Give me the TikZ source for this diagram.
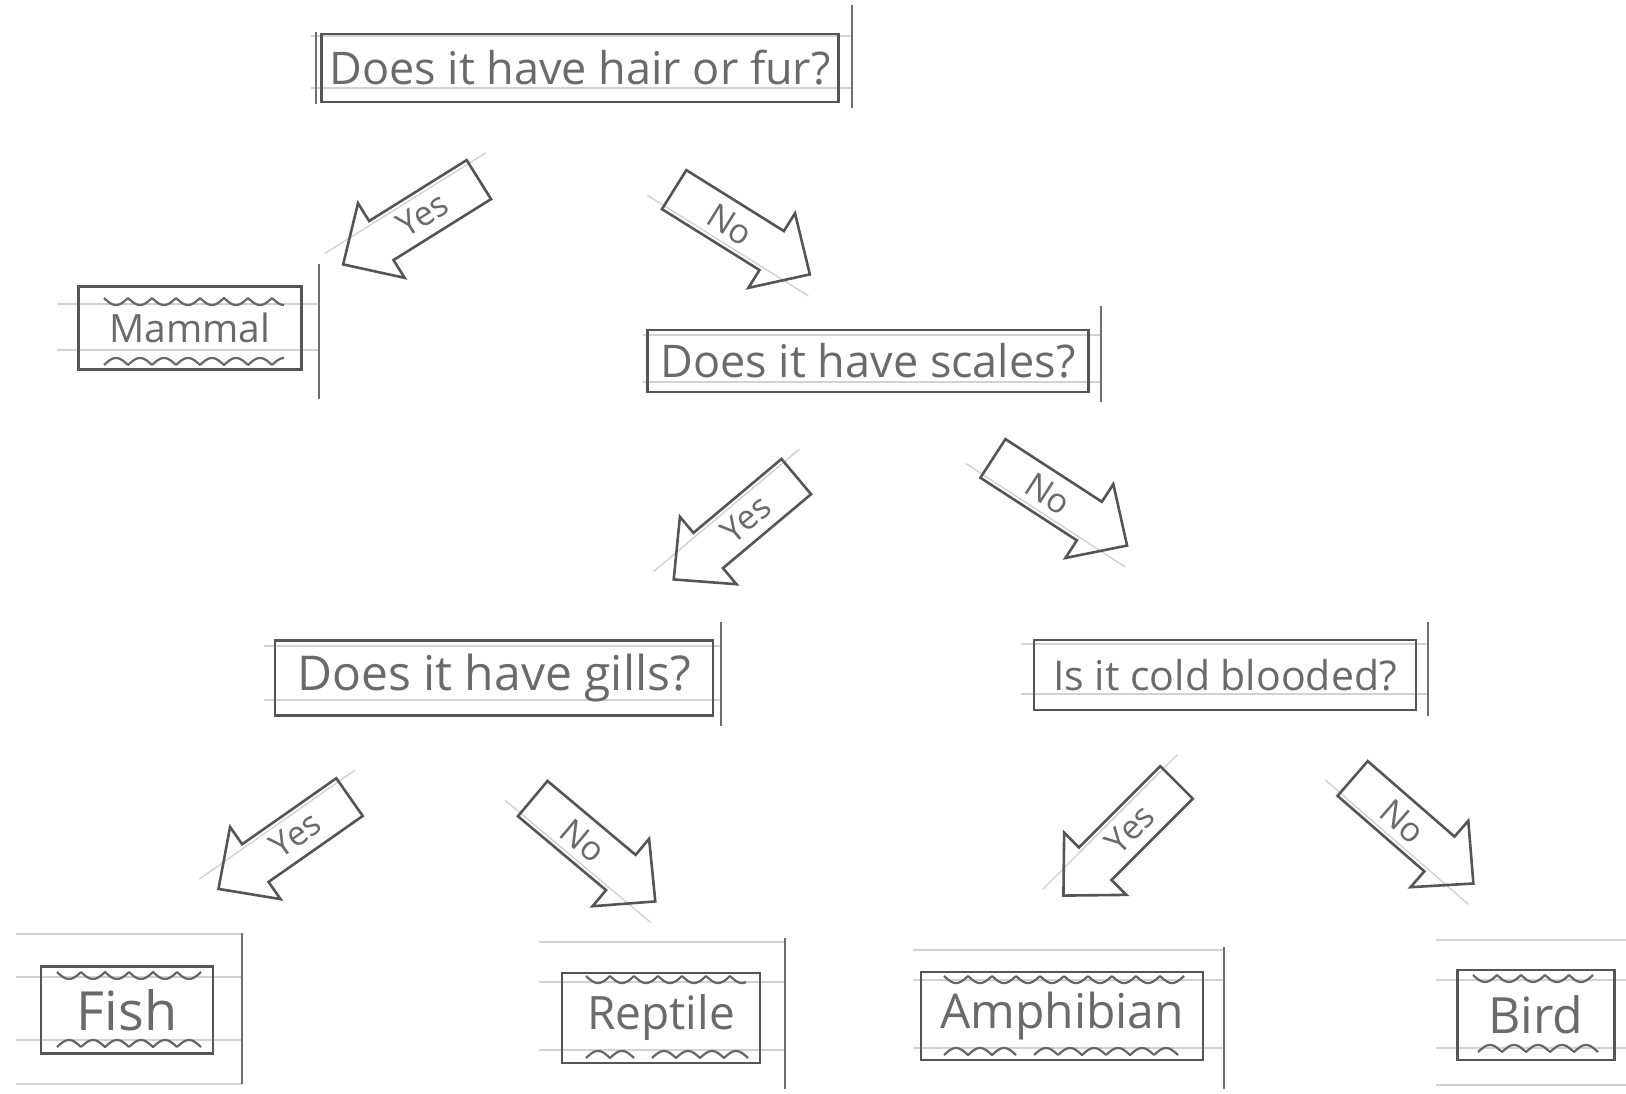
\documentclass[tikz,border=0pt]{standalone}
\usepackage{fontspec}
\setmainfont{Open Sans}
\definecolor{pencil}{HTML}{555555}
\definecolor{lead}{HTML}{6A6A6A}
\definecolor{ruledc}{HTML}{D2D2D2}
\newcommand\cupsline[3]{\draw[pwave] plot[domain=0:#2-#1, samples=160] ({#1+\x},{#3+7*abs(sin(7.5*\x))});}
\newcommand\bumpsline[3]{\draw[pwave] plot[domain=0:#2-#1, samples=160] ({#1+\x},{#3-7*abs(sin(7.5*\x))});}
\newcommand\fs[1]{\fontsize{#1}{#1}\selectfont}
\newcommand\cutarrow[6]{%
  \begin{scope}[shift={(#2,#3)}, rotate=#4]
    \draw[pruled] (-100,19) -- (90,19);
    \draw[parrow] (-80,-23) -- (35,-23) -- (35,-44) -- (80,0) -- (35,44) -- (35,23) -- (-80,23) -- cycle;
    \node[arrowtext, rotate=#5] (#1) at (-14,0) {#6};
  \end{scope}}
\begin{document}
\begin{tikzpicture}[x=0.5pt,y=-0.5pt,
  qbox/.style={draw=pencil, line width=1.4pt, inner sep=0pt, text=lead},
  leafbox/.style={draw=pencil, line width=1.4pt, inner sep=0pt, text=lead},
  pscrap/.style={draw=pencil!85, line width=1.1pt},
  pruled/.style={draw=ruledc, line width=0.7pt},
  pwave/.style={draw=pencil!90, line width=1.1pt, line join=round},
  parrow/.style={draw=pencil, line width=1.3pt, line join=miter},
  arrowtext/.style={text=lead, font=\fs{17}, inner sep=0pt}]
\useasboundingbox (0,0) rectangle (1626,1093);
\fill[white] (0,0) rectangle (1626,1093);

% ruled paper lines
\foreach \y in {36,88} \draw[pruled] (311,\y) -- (852,\y);
\foreach \y in {304,350} \draw[pruled] (57,\y) -- (319,\y);
\foreach \y in {335,382} \draw[pruled] (643,\y) -- (1101,\y);
\foreach \y in {646,700} \draw[pruled] (264,\y) -- (721,\y);
\foreach \y in {644,694} \draw[pruled] (1021,\y) -- (1428,\y);
\foreach \y in {934,977,1040,1084} \draw[pruled] (16,\y) -- (242,\y);
\foreach \y in {942,982,1050} \draw[pruled] (539,\y) -- (785,\y);
\foreach \y in {950,980,1048} \draw[pruled] (913,\y) -- (1224,\y);
\foreach \y in {940,980,1048,1085} \draw[pruled] (1436,\y) -- (1626,\y);

% scrap edges
\draw[pscrap] (852,5) -- (852,108);
\draw[pscrap] (316,32) -- (316,104);
\draw[pscrap] (319,264) -- (319,399);
\draw[pscrap] (1101,306) -- (1101,402);
\draw[pscrap] (721,622) -- (721,726);
\draw[pscrap] (1428,622) -- (1428,716);
\draw[pscrap] (242,933) -- (242,1084);
\draw[pscrap] (785,938) -- (785,1089);
\draw[pscrap] (1224,947) -- (1224,1089);

% question boxes
\node[qbox, minimum width=258.5pt, minimum height=34pt, font=\fs{22.5}] (hair) at (580,68) {Does it have hair or fur?};
\node[qbox, minimum width=220.5pt, minimum height=31pt, font=\fs{22.5}] (scales) at (868,361) {Does it have scales?};
\node[qbox, minimum width=219pt, minimum height=37.5pt, font=\fs{24}] (gills) at (494,678) {Does it have gills?};
\node[qbox, minimum width=191pt, minimum height=35pt, font=\fs{20.5}] (cold) at (1225,675) {Is it cold blooded?};

% leaf boxes
\node[leafbox, minimum width=111.5pt, minimum height=41.5pt, font=\fs{19.5}] (mammal) at (190,328) {Mammal};
\node[leafbox, minimum width=86pt, minimum height=43.5pt, font=\fs{27}] (fish) at (127,1010) {Fish};
\node[leafbox, minimum width=99pt, minimum height=45pt, font=\fs{23}] (reptile) at (661,1018) {Reptile};
\node[leafbox, minimum width=141pt, minimum height=44pt, font=\fs{24}] (amphibian) at (1062,1016) {Amphibian};
\node[leafbox, minimum width=78.5pt, minimum height=45pt, font=\fs{25}] (bird) at (1536,1015) {Bird};

% wavy decorations
\cupsline{104}{284}{298}
\bumpsline{104}{284}{365}
\cupsline{57}{201}{972}
\bumpsline{57}{201}{1047}
\cupsline{586}{746}{976}
\bumpsline{586}{634}{1058}
\bumpsline{652}{748}{1058}
\cupsline{944}{1184}{976}
\bumpsline{944}{1016}{1055}
\bumpsline{1034}{1178}{1055}
\cupsline{1473}{1593}{975}
\bumpsline{1478}{1598}{1052}

% arrows
\cutarrow{y1}{411}{222}{212}{32}{Yes}
\cutarrow{n1}{742}{232}{-32}{-32}{No}
\cutarrow{y2}{735}{528}{220}{40}{Yes}
\cutarrow{n2}{1060}{502}{-33}{-33}{No}
\cutarrow{y3}{284}{843}{215}{35}{Yes}
\cutarrow{n3}{594}{850}{-40}{-40}{No}
\cutarrow{y4}{1120}{839}{225}{45}{Yes}
\cutarrow{n4}{1413}{831}{-41}{-41}{No}
\end{tikzpicture}
\end{document}
